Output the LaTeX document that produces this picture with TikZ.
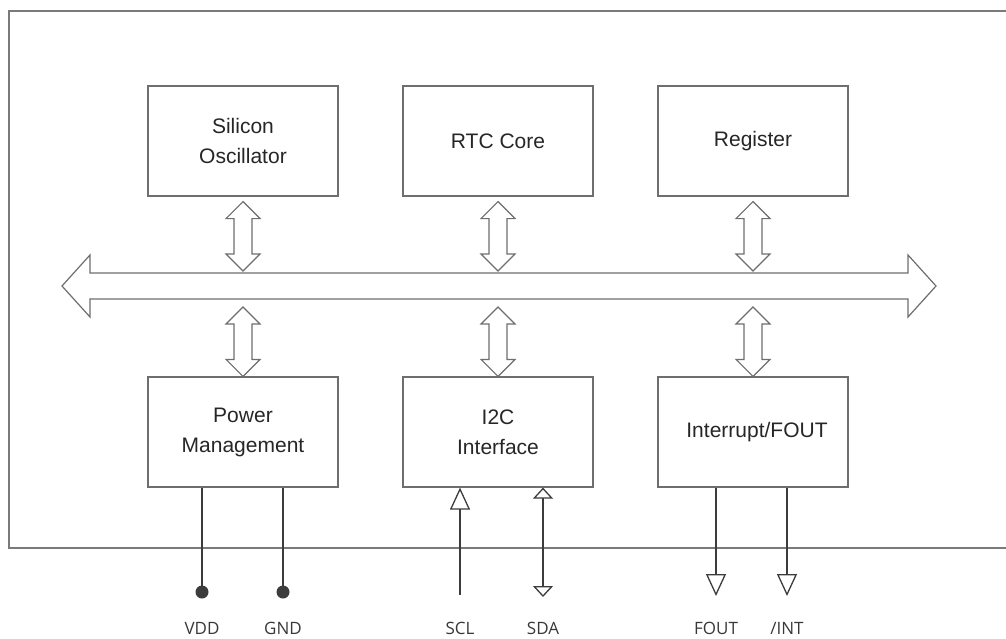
\documentclass[tikz,border=0pt]{standalone}
\usepackage{fontspec}
\setmainfont{Liberation Sans}
\newfontfamily\pinfont{Open Sans}
\usetikzlibrary{arrows.meta,calc}
\definecolor{framegray}{HTML}{7A7A7A}
\definecolor{boxgray}{HTML}{6E6E6E}
\definecolor{pingray}{HTML}{3C3C3C}
\newcommand{\busarrow}[2]{
  \draw[busline] let \p1=#1, \p2=#2 in
    (\x1,\y1) -- (\x1+17pt,\y1-17pt) -- (\x1+9pt,\y1-17pt)
    -- (\x1+9pt,\y2+17pt) -- (\x1+17pt,\y2+17pt) -- (\x1,\y2)
    -- (\x1-17pt,\y2+17pt) -- (\x1-9pt,\y2+17pt)
    -- (\x1-9pt,\y1-17pt) -- (\x1-17pt,\y1-17pt) -- cycle;
}
\tikzset{
  block/.style={draw=boxgray, line width=1.2pt, minimum width=190pt,
                minimum height=110pt, align=center, text=black!85,
                font=\fontsize{21}{30}\selectfont},
  busline/.style={draw=boxgray, line width=1.2pt, fill=white},
  pinline/.style={draw=pingray, line width=1.3pt},
  pinlabel/.style={font=\pinfont\fontsize{17}{19}\selectfont, text=black!78},
  bigtip/.style={-{Triangle[open,width=20pt,length=22pt]}},
  smalltips/.style={{Triangle[open,width=20pt,length=11pt]}-{Triangle[open,width=20pt,length=11pt]}}
}

\begin{document}
\begin{tikzpicture}[x=1pt,y=-1pt]
	\useasboundingbox (0,0) rectangle (1006,639);
	\draw[framegray, line width=1.4pt] (1010,11) -- (9,11) -- (9,548) -- (1010,548);
	% blocks
	\node[block] (osc) at (243,141) {Silicon\\Oscillator};
	\node[block] (rtc) at (498,141) {RTC Core};
	\node[block] (reg) at (753,141) {Register};
	\node[block] (pwr) at (243,432) {Power\\Management};
	\node[block] (i2c) at (498,432) {I2C\\Interface};
	\node[block] (irq) at (753,432) {\raisebox{-6pt}{\hspace{8pt}Interrupt/FOUT}};
	% bus
	\draw[busline] (62,286) -- (90,255) -- (90,273) -- (908,273) -- (908,255)
	  -- (936,286) -- (908,317) -- (908,299) -- (90,299) -- (90,317) -- cycle;
	\coordinate (bushigh) at (0,271);
	\coordinate (buslow) at (0,307);
	\busarrow{([yshift=-5pt]osc.south)}{(osc.south |- bushigh)}
	\busarrow{([yshift=-5pt]rtc.south)}{(rtc.south |- bushigh)}
	\busarrow{([yshift=-5pt]reg.south)}{(reg.south |- bushigh)}
	\busarrow{(pwr.north |- buslow)}{(pwr.north)}
	\busarrow{(i2c.north |- buslow)}{(i2c.north)}
	\busarrow{(irq.north |- buslow)}{(irq.north)}
	% pins
	\coordinate (vddpin) at (202,592);
	\coordinate (gndpin) at (283,592);
	\coordinate (sclpin) at (460,595);
	\coordinate (sdapin) at (543,597);
	\coordinate (foutpin) at (716,596);
	\coordinate (intpin) at (787,596);
	\draw[pinline] (vddpin) -- (vddpin |- pwr.south);
	\draw[pinline] (gndpin) -- (gndpin |- pwr.south);
	\fill[pingray] (vddpin) circle (6.5pt);
	\fill[pingray] (gndpin) circle (6.5pt);
	\draw[pinline, bigtip] (sclpin) -- (sclpin |- i2c.south);
	\draw[pinline, smalltips] (sdapin) -- (sdapin |- i2c.south);
	\draw[pinline, bigtip] (foutpin |- irq.south) -- (foutpin);
	\draw[pinline, bigtip] (intpin |- irq.south) -- (intpin);
	\node[pinlabel] (vdd) at (202,628) {VDD};
	\node[pinlabel] (gnd) at (283,628) {GND};
	\node[pinlabel] (scl) at (460,628) {SCL};
	\node[pinlabel] (sda) at (543,628) {SDA};
	\node[pinlabel] (fout) at (716,628) {FOUT};
	\node[pinlabel] (int) at (787,628) {/INT};
\end{tikzpicture}
\end{document}
